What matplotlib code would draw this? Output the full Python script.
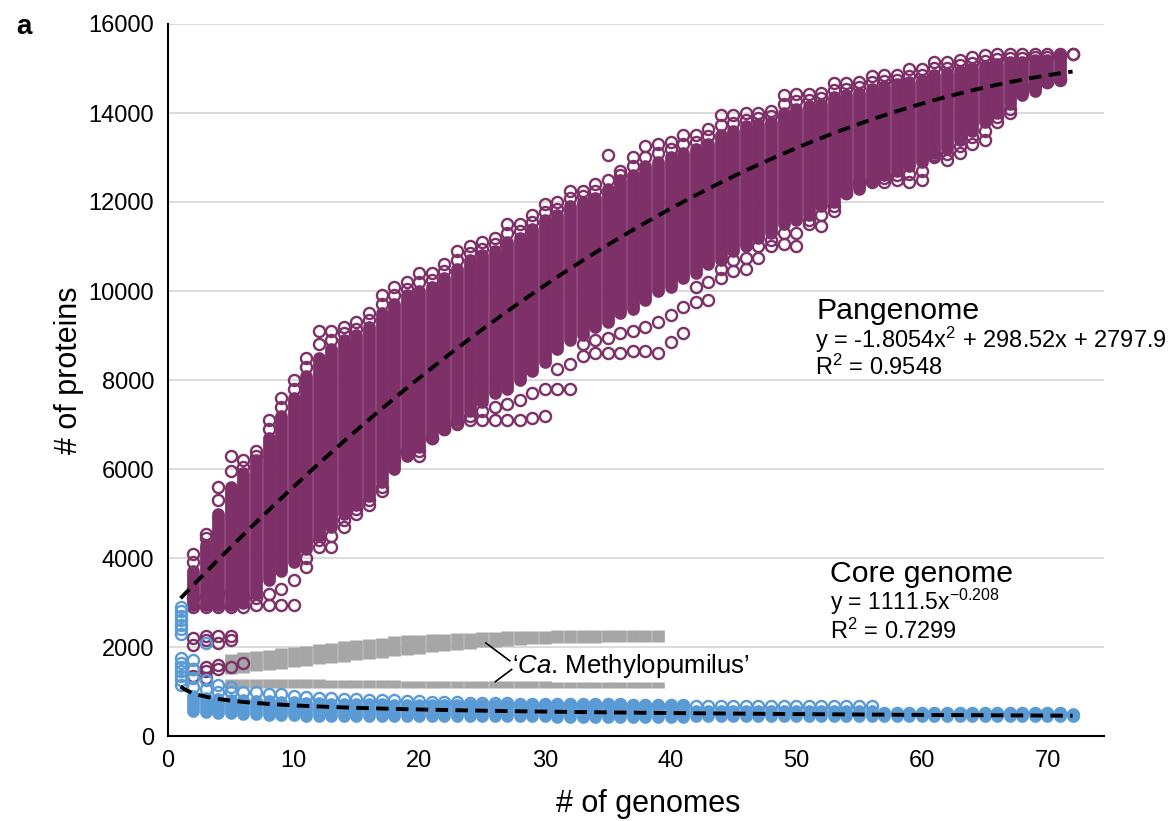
import numpy as np
import matplotlib
matplotlib.use("Agg")
import matplotlib.pyplot as plt

plt.rcParams['font.family'] = ['Liberation Sans', 'DejaVu Sans']
plt.rcParams['mathtext.fontset'] = 'custom'
plt.rcParams['mathtext.rm'] = 'Liberation Sans'
plt.rcParams['mathtext.it'] = 'Liberation Sans:italic'

PURPLE = '#7E3168'
BLUE = '#5B9BD5'
GRAY = '#A6A6A6'

# pangenome: dense part of each column (x = 2..71)
pan_x = list(range(2, 72))
pan_lo = [2950, 2950, 2950, 2950, 3000, 3200, 3500, 3700, 3900, 4200,
          4500, 4700, 5000, 5200, 5400, 5700, 6000, 6300, 6500, 6700,
          6900, 7100, 7300, 7500, 7700, 7800, 8000, 8200, 8400, 8700,
          8900, 9000, 9200, 9300, 9500, 9600, 9800, 10000, 10100, 10300,
          10400, 10600, 10700, 10900, 11000, 11200, 11300, 11500, 11600, 11700,
          11900, 12000, 12200, 12300, 12500, 12600, 12700, 12800, 12900, 13100,
          13200, 13400, 13600, 13800, 14000, 14200, 14400, 14500, 14700, 14800]
pan_hi = [3700, 4300, 5000, 5600, 5900, 6200, 6700, 7200, 7600, 8100,
          8500, 8700, 8900, 9000, 9200, 9500, 9700, 9900, 10000, 10100,
          10300, 10500, 10700, 10800, 10900, 11100, 11200, 11400, 11600, 11700,
          11900, 12000, 12100, 12300, 12500, 12600, 12800, 12900, 13000, 13100,
          13200, 13300, 13500, 13600, 13700, 13750, 13800, 14000, 14100, 14150,
          14200, 14350, 14400, 14450, 14550, 14600, 14650, 14700, 14750, 14850,
          14900, 14950, 15000, 15050, 15100, 15150, 15150, 15200, 15200, 15250]
# sparser circles just outside the dense part (x = 2..71)
pan_top2 = [3900, 4450, 5300, 5950, 6050, 6300, 6900, 7400, 7800, 8300,
            8800, 8900, 9050, 9150, 9350, 9700, 9900, 10050, 10200, 10250,
            10450, 10700, 10850, 10950, 11050, 11300, 11350, 11550, 11780, 11850,
            12080, 12130, 12250, 12500, 12600, 12800, 13020, 13100, 13180, 13300,
            13350, 13480, 13720, 13780, 13850, 13880, 13930, 14200, 14260, 14290,
            14330, 14520, 14540, 14580, 14690, 14720, 14750, 14840, 14860, 15000,
            15020, 15080, 15120, 15170, 15210, 15240, 15240, 15260, 15260, 15290]
pan_bottom2 = [3100, 3150, 3200, 3250, 3150, 3100, 3200, 3300, 3500, 4000,
               4400, 4500, 4850, 5100, 5300, 5600, 6200, 6350, 6400, 6700,
               6900, 7050, 7200, 7300, 7400, 7450, 7550, 7700, 7800, 8250,
               8350, 8800, 8900, 8950, 9050, 9100, 9200, 9300, 9450, 9650,
               10100, 10200, 10500, 10700, 10750, 11000, 11150, 11300, 11300, 11600,
               11700, 11900, 12200, 12400, 12480, 12530, 12600, 12620, 12700, 13050,
               13080, 13250, 13450, 13600, 13900, 14100, 14500, 14580, 14700, 14780]

# pangenome: highest and lowest circle of each column (x = 2..72)
pan_ring_x = list(range(2, 73))
pan_top = [4100, 4550, 5600, 6300, 6200, 6400, 7100, 7600, 8000, 8500,
           9100, 9100, 9200, 9300, 9500, 9900, 10100, 10200, 10400, 10400,
           10600, 10900, 11000, 11100, 11200, 11500, 11500, 11700, 11950, 12000,
           12250, 12250, 12400, 13050, 12700, 13000, 13250, 13300, 13350, 13500,
           13500, 13650, 13950, 13950, 14000, 14000, 14050, 14400, 14430, 14430,
           14450, 14680, 14680, 14700, 14830, 14850, 14850, 14980, 14980, 15150,
           15150, 15200, 15250, 15300, 15330, 15330, 15330, 15330, 15330, 15330, 15330]
pan_bottom = [2900, 2900, 2900, 2900, 2900, 2950, 2950, 2950, 2950, 3800,
              4250, 4250, 4700, 5000, 5200, 5500, 6400, 6400, 6300, 6700,
              6900, 7000, 7100, 7100, 7100, 7100, 7100, 7150, 7200, 7800,
              7800, 8550, 8600, 8600, 8600, 8650, 8650, 8600, 8850, 9050,
              9750, 9800, 10300, 10450, 10500, 10750, 11000, 11050, 11000, 11500,
              11450, 11800, 12200, 12450, 12450, 12450, 12500, 12450, 12500, 13000,
              12950, 13100, 13300, 13400, 13800, 14000, 14600, 14650, 14700, 14750, 15330]

# pangenome circles of the small 'Ca. Methylopumilus' genomes
pan_small_x = [2, 2, 3, 3, 4, 4, 5, 5, 2, 3, 3, 4, 4, 5, 6, 2, 3]
pan_small_y = [2050, 2200, 2150, 2250, 2100, 2250, 2150, 2250,
               1500, 1450, 1550, 1500, 1600, 1550, 1650, 1350, 1300]

# core genome: dense part (x = 2..72)
core_x = list(range(2, 73))
core_lo = [560, 540, 520, 510, 500, 490, 480, 480, 470, 460,
           460, 460, 460, 460, 450, 450, 450, 450, 450, 440,
           440, 440, 440, 440, 440, 440, 440, 440, 440, 430,
           430, 430, 430, 430, 430, 430, 430, 430, 430, 430,
           450, 450, 450, 450, 450, 450, 450, 450, 450, 450,
           450, 450, 450, 450, 450, 440, 440, 440, 440, 440,
           440, 440, 440, 440, 440, 440, 440, 440, 440, 440, 440]
core_hi = [900, 860, 840, 820, 800, 790, 780, 770, 760, 750,
           740, 730, 720, 720, 710, 710, 700, 700, 700, 700,
           700, 700, 700, 700, 700, 700, 700, 690, 690, 690,
           690, 690, 690, 690, 690, 690, 690, 680, 680, 680,
           560, 560, 560, 560, 560, 560, 560, 560, 560, 560,
           560, 560, 560, 560, 560, 500, 500, 500, 500, 500,
           500, 500, 500, 500, 500, 500, 500, 500, 500, 500, 500]
core_top = [1300, 1250, 1150, 1100, 1000, 1000, 950, 950, 900, 880,
            860, 850, 840, 830, 820, 810, 800, 790, 780, 770,
            760, 760, 750, 750, 740, 740, 730, 730, 720, 720,
            720, 720, 710, 710, 710, 700, 700, 700, 700, 700,
            680, 680, 680, 680, 670, 670, 670, 670, 670, 670,
            670, 670, 670, 670, 670, 520, 520, 520, 520, 520,
            520, 520, 520, 520, 520, 520, 520, 520, 520, 510, 480]
# single genomes (x = 1)
genome_sizes = [1150, 1250, 1350, 1450, 1550, 1650, 1750,
                2300, 2400, 2500, 2600, 2700, 2800, 2900]
core_extra_x = [2, 2, 3, 2, 3, 4, 5]
core_extra_y = [1500, 1700, 2100, 1100, 1050, 1000, 1000]

# 'Ca. Methylopumilus' bands (x = 5..39)
methylo_x = list(range(5, 40))
methylo_up_lo = [1400, 1420, 1450, 1480, 1510, 1540, 1580, 1610, 1640, 1670,
                 1700, 1730, 1760, 1790, 1820, 1850, 1880, 1900, 1930, 1960,
                 1990, 2010, 2030, 2050, 2060, 2070, 2080, 2090, 2100, 2100,
                 2110, 2110, 2120, 2120, 2120]
methylo_up_hi = [1850, 1880, 1910, 1940, 1970, 2000, 2030, 2070, 2100, 2130,
                 2160, 2190, 2210, 2240, 2260, 2280, 2290, 2300, 2310, 2320,
                 2330, 2340, 2350, 2360, 2365, 2370, 2375, 2375, 2380, 2380,
                 2380, 2380, 2380, 2380, 2380]
methylo_low_lo = [1070] * 35
methylo_low_hi = [1290, 1290, 1285, 1280, 1280, 1275, 1270, 1270, 1265, 1260,
                  1260, 1255, 1250, 1250, 1245, 1245, 1240, 1240, 1235, 1235,
                  1230, 1230, 1230, 1225, 1225, 1225, 1220, 1220, 1220, 1215,
                  1215, 1215, 1210, 1210, 1210]

# trendlines as printed on the chart
pan_coef = [-1.8054, 298.52, 2797.9]
core_a, core_b = 1111.5, -0.208

fig = plt.figure(figsize=(11.76, 8.21), dpi=100)
ax = fig.add_axes([168 / 1176, 85 / 821, 936 / 1176, 712 / 821])

ms = 8.0
mew = 1.7
colw = 9.2

ax.vlines(methylo_x, methylo_up_lo, methylo_up_hi, colors=GRAY, linewidth=9.1, capstyle='butt', zorder=1)
ax.vlines(methylo_x, methylo_low_lo, methylo_low_hi, colors=GRAY, linewidth=9.1, capstyle='butt', zorder=1)

ax.vlines(pan_x, pan_lo, pan_hi, colors=PURPLE, linewidth=colw, capstyle='round', zorder=2)
ring = dict(ms=ms, mfc='none', mew=mew, ls='none', marker='o')
ax.plot(pan_x, pan_top2, mec=PURPLE, zorder=2, **ring)
ax.plot(pan_x, pan_bottom2, mec=PURPLE, zorder=2, **ring)
ax.plot(pan_ring_x, pan_top, mec=PURPLE, zorder=2, **ring)
ax.plot(pan_ring_x, pan_bottom, mec=PURPLE, zorder=2, **ring)
ax.plot(pan_small_x, pan_small_y, mec=PURPLE, zorder=2, **ring)

ax.vlines(core_x, core_lo, core_hi, colors=BLUE, linewidth=colw, capstyle='round', zorder=3)
ax.plot(core_x, core_top, mec=BLUE, zorder=3, **ring)
ax.plot([1] * len(genome_sizes), genome_sizes, mec=BLUE, zorder=3, **ring)
ax.plot(core_extra_x, core_extra_y, mec=BLUE, zorder=3, **ring)

xf = np.linspace(1, 72, 300)
ax.plot(xf, np.polyval(pan_coef, xf), color='black', lw=2.8, ls=(0, (3.2, 1.9)), zorder=4)
ax.plot(xf, core_a * xf ** core_b, color='black', lw=2.8, ls=(0, (3.2, 1.9)), zorder=4)

ax.set_xlim(0, 74.5)
ax.set_ylim(0, 16000)
ax.set_xticks(range(0, 80, 10))
ax.set_yticks(range(0, 16001, 2000))
ax.tick_params(length=0, labelsize=17, pad=10)
ax.yaxis.grid(True, color='#D9D9D9', lw=1.3)
ax.set_axisbelow(True)
for s in ['top', 'right']:
    ax.spines[s].set_visible(False)
for s in ['left', 'bottom']:
    ax.spines[s].set_linewidth(1.5)
ax.set_xlabel('# of genomes', fontsize=22)
ax.xaxis.set_label_coords(0.513, -0.075)
ax.set_ylabel('# of proteins', fontsize=22)
ax.yaxis.set_label_coords(-0.09, 0.514)

ax.text(51.6, 9370, 'Pangenome', fontsize=21.8, va='baseline')
ax.text(51.5, 8718, r'y = -1.8054x$^{2}$ + 298.52x + 2797.9', fontsize=17, va='baseline')
ax.text(51.5, 8112, r'R$^{2}$ = 0.9548', fontsize=17, va='baseline')
ax.text(52.7, 3460, 'Core genome', fontsize=21.8, va='baseline')
ax.text(52.7, 2831, r'y = 1111.5x$^{\mathrm{-0.208}}$', fontsize=16.5, va='baseline')
ax.text(52.7, 2180, r'R$^{2}$ = 0.7299', fontsize=17, va='baseline')

ax.text(27.4, 1416, '\u2018$\\it{Ca}$. Methylopumilus\u2019', fontsize=18.5, va='baseline', zorder=5)
ax.plot([25.3, 27.2], [2090, 1690], color='black', lw=1.2, zorder=5)
ax.plot([26.05, 27.35], [1220, 1495], color='black', lw=1.2, zorder=5)

fig.text(16 / 1176, 1 - 34 / 821, 'a', fontsize=20, fontweight='bold')

fig.savefig('out.png', dpi=100)
